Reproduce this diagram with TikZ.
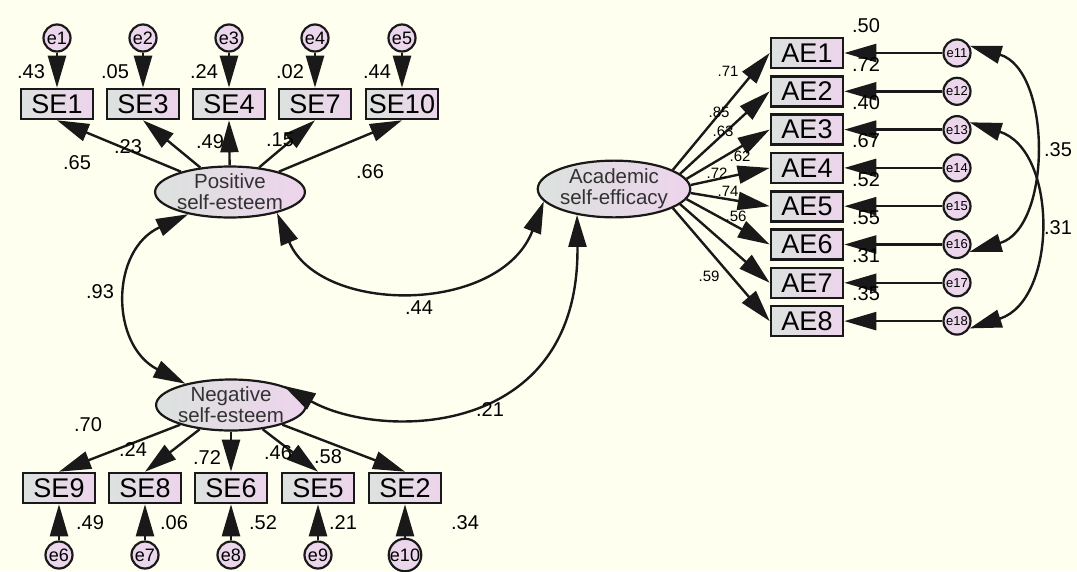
\documentclass[tikz,border=0pt]{standalone}
\usepackage{fontspec}
\setmainfont{Liberation Sans}
\usetikzlibrary{shapes.geometric,arrows.meta}

\definecolor{paper}{RGB}{255,255,240}
\definecolor{obsleft}{RGB}{220,226,222}
\definecolor{obsright}{RGB}{237,212,236}
\definecolor{errfill}{RGB}{235,214,235}
\definecolor{ink}{RGB}{25,25,25}
\definecolor{latext}{RGB}{50,50,50}

\tikzset{
  obs/.style={draw=ink,line width=2.6pt,minimum width=72pt,minimum height=30pt,inner sep=0pt,
    left color=obsleft,right color=obsright,font=\fontsize{27}{27}\selectfont},
  lat/.style={ellipse,draw=ink,line width=2.2pt,inner sep=0pt,align=center,text=latext,
    left color=obsleft,right color=obsright,font=\fontsize{20.5}{21}\selectfont},
  err/.style={circle,draw=ink,line width=2.2pt,minimum size=27pt,inner sep=0pt,fill=errfill,
    font=\fontsize{18}{18}\selectfont},
  errsmall/.style={err,font=\fontsize{13}{13}\selectfont},
  reg/.style={draw=ink,line width=2.4pt,-{Triangle[length=32pt,width=18pt]}},
  covar/.style={draw=ink,line width=2.4pt,{Triangle[length=32pt,width=18pt]}-{Triangle[length=32pt,width=18pt]}},
  coef/.style={font=\fontsize{20}{20}\selectfont},
  coefsmall/.style={font=\fontsize{15}{15}\selectfont}
}

\begin{document}
\begin{tikzpicture}[x=1pt,y=1pt]
\useasboundingbox (0,0) rectangle (1077,-571);
\fill[paper] (0,0) rectangle (1077,-571);

% latent factors
\node[lat] (pos) at (230,-192) {Positive\\self-esteem};
\node[lat] (neg) at (231,-405) {Negative\\self-esteem};
\node[lat] (acad) at (614,-189) {Academic\\self-efficacy};

% positive self-esteem items and their errors
\node[obs] (SE1) at (57,-104) {SE1};
\node[obs] (SE3) at (143,-104) {SE3};
\node[obs] (SE4) at (229,-104) {SE4};
\node[obs] (SE7) at (315,-104) {SE7};
\node[obs] (SE10) at (402,-104) {SE10};
\node[err] (e1) at (57,-38) {e1};
\node[err] (e2) at (143,-38) {e2};
\node[err] (e3) at (229,-38) {e3};
\node[err] (e4) at (315,-38) {e4};
\node[err] (e5) at (402,-38) {e5};

% negative self-esteem items and their errors
\node[obs] (SE9) at (59,-488) {SE9};
\node[obs] (SE8) at (145,-488) {SE8};
\node[obs] (SE6) at (231,-488) {SE6};
\node[obs] (SE5) at (318,-488) {SE5};
\node[obs] (SE2) at (405,-488) {SE2};
\node[err] (e6) at (59,-555) {e6};
\node[err] (e7) at (145,-555) {e7};
\node[err] (e8) at (231,-555) {e8};
\node[err] (e9) at (318,-555) {e9};
\node[err] (e10) at (405,-555) {e10};

% academic self-efficacy items and their errors
\node[obs] (AE1) at (807,-53) {AE1};
\node[obs] (AE2) at (807,-91.3) {AE2};
\node[obs] (AE3) at (807,-129.6) {AE3};
\node[obs] (AE4) at (807,-167.9) {AE4};
\node[obs] (AE5) at (807,-206.2) {AE5};
\node[obs] (AE6) at (807,-244.5) {AE6};
\node[obs] (AE7) at (807,-282.8) {AE7};
\node[obs] (AE8) at (807,-321.1) {AE8};
\node[errsmall] (e11) at (957,-53) {e11};
\node[errsmall] (e12) at (957,-91.3) {e12};
\node[errsmall] (e13) at (957,-129.6) {e13};
\node[errsmall] (e14) at (957,-167.9) {e14};
\node[errsmall] (e15) at (957,-206.2) {e15};
\node[errsmall] (e16) at (957,-244.5) {e16};
\node[errsmall] (e17) at (957,-282.8) {e17};
\node[errsmall] (e18) at (957,-321.1) {e18};

% loadings
\draw[reg] (pos) -- (SE1.south);
\draw[reg] (pos) -- (SE3.south);
\draw[reg] (pos) -- (SE4.south);
\draw[reg] (pos) -- (SE7.south);
\draw[reg] (pos) -- (SE10.south);
\draw[reg] (neg) -- (SE9.north);
\draw[reg] (neg) -- (SE8.north);
\draw[reg] (neg) -- (SE6.north);
\draw[reg] (neg) -- (SE5.north);
\draw[reg] (neg) -- (SE2.north);
\draw[reg] (acad.18) -- (AE1.west);
\draw[reg] (acad.13) -- (AE2.west);
\draw[reg] (acad.8) -- (AE3.west);
\draw[reg] (acad.3) -- (AE4.west);
\draw[reg] (acad.-3) -- (AE5.west);
\draw[reg] (acad.-8) -- (AE6.west);
\draw[reg] (acad.-13) -- (AE7.west);
\draw[reg] (acad.-18) -- (AE8.west);

% error terms
\draw[reg] (e1) -- (SE1);
\draw[reg] (e2) -- (SE3);
\draw[reg] (e3) -- (SE4);
\draw[reg] (e4) -- (SE7);
\draw[reg] (e5) -- (SE10);
\draw[reg] (e6) -- (SE9);
\draw[reg] (e7) -- (SE8);
\draw[reg] (e8) -- (SE6);
\draw[reg] (e9) -- (SE5);
\draw[reg] (e10) -- (SE2);
\draw[reg] (e11) -- (AE1);
\draw[reg] (e12) -- (AE2);
\draw[reg] (e13) -- (AE3);
\draw[reg] (e14) -- (AE4);
\draw[reg] (e15) -- (AE5);
\draw[reg] (e16) -- (AE6);
\draw[reg] (e17) -- (AE7);
\draw[reg] (e18) -- (AE8);

% correlations
\draw[covar] (pos.208) .. controls (110,-250) and (110,-345) .. (neg.155);
\draw[covar] (pos.336) .. controls (320,-315) and (500,-315) .. (acad.190);
\draw[covar] (neg.20) .. controls (380,-440) and (580,-440) .. (acad.215);
\draw[covar] (e11.30) .. controls (1052,-70) and (1052,-228) .. (e16.-30);
\draw[covar] (e13.30) .. controls (1058,-150) and (1058,-300) .. (e18.-30);

\node[coef] (c93) at (100,-292) {.93};
\node[coef] (c44) at (419,-308) {.44};
\node[coef] (c21) at (490,-410) {.21};
\node[coef] (c35) at (1058,-150) {.35};
\node[coef] (c31) at (1058,-228) {.31};

% squared multiple correlations
\node[coef] (rSE1) at (31,-72) {.43};
\node[coef] (rSE3) at (115,-72) {.05};
\node[coef] (rSE4) at (204,-72) {.24};
\node[coef] (rSE7) at (290,-72) {.02};
\node[coef] (rSE10) at (377,-72) {.44};
\node[coef] (rSE9) at (90,-523) {.49};
\node[coef] (rSE8) at (174,-523) {.06};
\node[coef] (rSE6) at (263,-523) {.52};
\node[coef] (rSE5) at (343,-523) {.21};
\node[coef] (rSE2) at (465,-523) {.34};
\node[coef] (rAE1) at (866,-26) {.50};
\node[coef] (rAE2) at (866,-64.3) {.72};
\node[coef] (rAE3) at (866,-102.6) {.40};
\node[coef] (rAE4) at (866,-140.9) {.67};
\node[coef] (rAE5) at (866,-179.2) {.52};
\node[coef] (rAE6) at (866,-217.5) {.55};
\node[coef] (rAE7) at (866,-255.8) {.31};
\node[coef] (rAE8) at (866,-294.1) {.35};

% standardized loadings
\node[coef] (lSE1) at (77,-163) {.65};
\node[coef] (lSE3) at (128,-147) {.23};
\node[coef] (lSE4) at (210,-142) {.49};
\node[coef] (lSE7) at (280,-140) {.15};
\node[coef] (lSE10) at (370,-172) {.66};
\node[coef] (lSE9) at (88,-425) {.70};
\node[coef] (lSE8) at (133,-450) {.24};
\node[coef] (lSE6) at (207,-458) {.72};
\node[coef] (lSE5) at (278,-453) {.46};
\node[coef] (lSE2) at (328,-457) {.58};
\node[coefsmall] (lAE1) at (728,-71) {.71};
\node[coefsmall] (lAE2) at (719,-112) {.85};
\node[coefsmall] (lAE3) at (723,-131) {.63};
\node[coefsmall] (lAE4) at (740,-156) {.62};
\node[coefsmall] (lAE5) at (717,-173) {.72};
\node[coefsmall] (lAE6) at (728,-191) {.74};
\node[coefsmall] (lAE7) at (736,-216) {.56};
\node[coefsmall] (lAE8) at (709,-276) {.59};
\end{tikzpicture}
\end{document}
